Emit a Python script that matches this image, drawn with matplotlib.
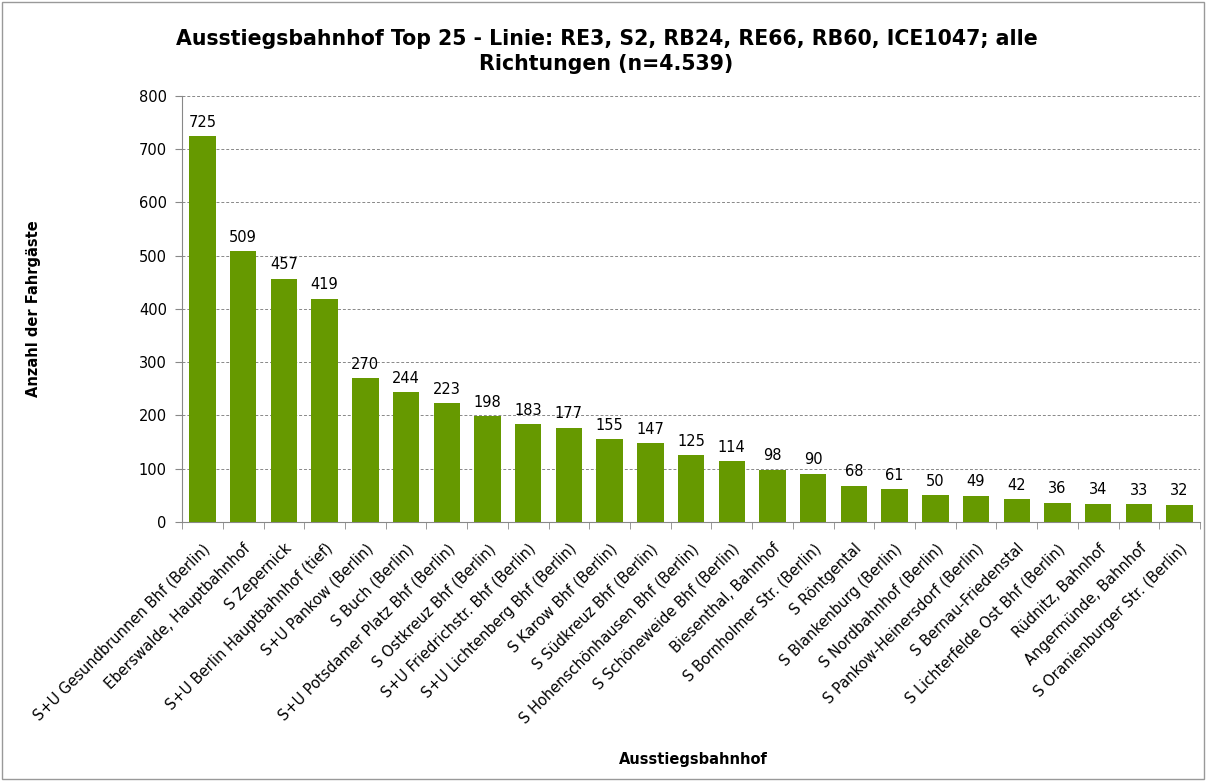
import matplotlib
matplotlib.use("Agg")
import matplotlib.pyplot as plt
from matplotlib.patches import Rectangle

categories = [
    "S+U Gesundbrunnen Bhf (Berlin)", "Eberswalde, Hauptbahnhof", "S Zepernick",
    "S+U Berlin Hauptbahnhof (tief)", "S+U Pankow (Berlin)", "S Buch (Berlin)",
    "S+U Potsdamer Platz Bhf (Berlin)", "S Ostkreuz Bhf (Berlin)",
    "S+U Friedrichstr. Bhf (Berlin)", "S+U Lichtenberg Bhf (Berlin)",
    "S Karow Bhf (Berlin)", "S Südkreuz Bhf (Berlin)",
    "S Hohenschönhausen Bhf (Berlin)", "S Schöneweide Bhf (Berlin)",
    "Biesenthal, Bahnhof", "S Bornholmer Str. (Berlin)", "S Röntgental",
    "S Blankenburg (Berlin)", "S Nordbahnhof (Berlin)",
    "S Pankow-Heinersdorf (Berlin)", "S Bernau-Friedenstal",
    "S Lichterfelde Ost Bhf (Berlin)", "Rüdnitz, Bahnhof", "Angermünde, Bahnhof",
    "S Oranienburger Str. (Berlin)",
]
values = [725, 509, 457, 419, 270, 244, 223, 198, 183, 177, 155, 147, 125,
          114, 98, 90, 68, 61, 50, 49, 42, 36, 34, 33, 32]
yticks = [0, 100, 200, 300, 400, 500, 600, 700, 800]

title = "Ausstiegsbahnhof Top 25 - Linie: RE3, S2, RB24, RE66, RB60, ICE1047; alle\nRichtungen (n=4.539)"

plt.rcParams['font.family'] = ['DejaVu Sans']

fig = plt.figure(figsize=(12.06, 7.81), dpi=100)
ax = fig.add_axes([0.151, 0.332, 0.844, 0.545])

x = list(range(len(categories)))
ax.bar(x, values, width=0.65, color="#669900", zorder=3)
for xi, v in zip(x, values):
    ax.text(xi, v + 12, str(v), ha="center", va="bottom", fontsize=10.5, color="#000000")

ax.set_xlim(-0.5, len(categories) - 0.5)
ax.set_ylim(0, 800)
ax.set_yticks(yticks)
ax.set_yticklabels([str(t) for t in yticks], fontsize=10.5)
ax.yaxis.grid(True, linestyle=(0, (3, 2)), color="#888888", linewidth=0.7, zorder=0)
ax.set_xticks(x)
ax.set_xticklabels(categories, rotation=45, ha="right", rotation_mode="anchor", fontsize=10.5)
ax.tick_params(axis="x", length=0, pad=14)
ax.set_xticks([i - 0.5 for i in range(len(categories) + 1)], minor=True)
ax.tick_params(axis="x", which="minor", length=5, color="#888888")
ax.tick_params(axis="y", length=5, color="#888888", direction="out", pad=6)

for s in ["top", "right"]:
    ax.spines[s].set_visible(False)
ax.spines["left"].set_color("#888888")
ax.spines["bottom"].set_color("#888888")

ax.set_ylabel("Anzahl der Fahrgäste", fontsize=10.5, fontweight="bold")
ax.yaxis.set_label_coords(-0.139, 0.5)
fig.text(0.575, 0.028, "Ausstiegsbahnhof", ha="center", va="center", fontsize=10.5, fontweight="bold")
fig.text(0.503, 0.934, title, ha="center", va="center", fontsize=14.8, fontweight="bold", linespacing=1.35)

fig.patches.append(Rectangle((0.002, 0.002), 0.996, 0.996, transform=fig.transFigure,
                             fill=False, edgecolor="#999999", linewidth=1))

fig.savefig("out.png", dpi=100, facecolor="white")
